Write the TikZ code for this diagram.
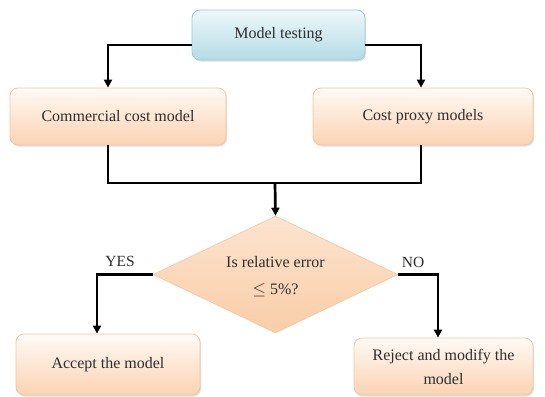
\documentclass[tikz,border=0pt]{standalone}
\usepackage{fontspec}
\setmainfont{Liberation Serif}
\usetikzlibrary{shapes.geometric,arrows.meta,shadows}
\definecolor{txt}{HTML}{2E2E2E}
\definecolor{bluetop}{HTML}{EEF8FA}
\definecolor{bluebot}{HTML}{B3DCE5}
\definecolor{blueedge}{HTML}{9CC9D4}
\definecolor{orgtop}{HTML}{FFFAF5}
\definecolor{orgbot}{HTML}{FBD3B3}
\definecolor{orgedge}{HTML}{F1C6A4}
\definecolor{diatop}{HTML}{FDE4CF}
\definecolor{diabot}{HTML}{F9CDA8}
\tikzset{
  box/.style={rectangle, rounded corners=8pt, draw=orgedge, line width=0.8pt,
    top color=orgtop, bottom color=orgbot, text=txt, align=center,
    font=\fontsize{16}{24}\selectfont, inner sep=0pt,
    drop shadow={opacity=0.25, shadow xshift=1pt, shadow yshift=-1.5pt}},
  bluebox/.style={box, draw=blueedge, top color=bluetop, bottom color=bluebot},
  decision/.style={diamond, draw=orgedge, line width=0.6pt, top color=diatop,
    bottom color=diabot, inner sep=0pt},
  dectext/.style={text=txt, align=center, inner sep=0pt,
    font=\fontsize{16}{27}\selectfont},
  conn/.style={line width=2.7pt, black},
  arr/.style={conn, -{Triangle[length=8pt,width=8pt]}},
  lbl/.style={text=txt, font=\fontsize{15.5}{18}\selectfont, inner sep=0pt}
}
\begin{document}
\begin{tikzpicture}[x=1pt,y=-1pt]
\useasboundingbox (0,0) rectangle (545,396);
\node[bluebox, minimum width=173pt, minimum height=50pt] (test) at (278.5,35) {Model testing};
\node[box, minimum width=216pt, minimum height=57pt] (comm) at (118,116.5) {Commercial cost model};
\node[box, minimum width=220pt, minimum height=57pt] (proxy) at (423,116.5) {Cost proxy models};
\node[decision, minimum width=245pt, minimum height=117pt,
  label={[dectext, yshift=-2pt]center:{Is relative error\\$\leq$ 5\%?}}] (dec) at (275.5,274.5) {};
\node[box, minimum width=184pt, minimum height=61pt] (accept) at (108,364.5) {Accept the model};
\node[box, minimum width=179pt, minimum height=57pt] (reject) at (443.5,366.5) {Reject and modify the\\model};
\coordinate (merge) at (275,183);
\draw[arr] ([yshift=-10pt]test.west) -| ([xshift=-10pt]comm.north);
\draw[arr] ([yshift=-10pt]test.east) -| ([xshift=-2pt]proxy.north);
\draw[conn] ([xshift=-10pt]comm.south) |- (merge) -| ([xshift=-2pt]proxy.south);
\draw[arr] (merge) -- (dec.north);
\draw[arr] (dec.west) -| ([xshift=-11pt]accept.north);
\draw[arr] (dec.east) -| ([xshift=-5.5pt]reject.north);
\node[lbl] (yes) at (120,261) {YES};
\node[lbl] (no) at (413,262) {NO};
\end{tikzpicture}
\end{document}
